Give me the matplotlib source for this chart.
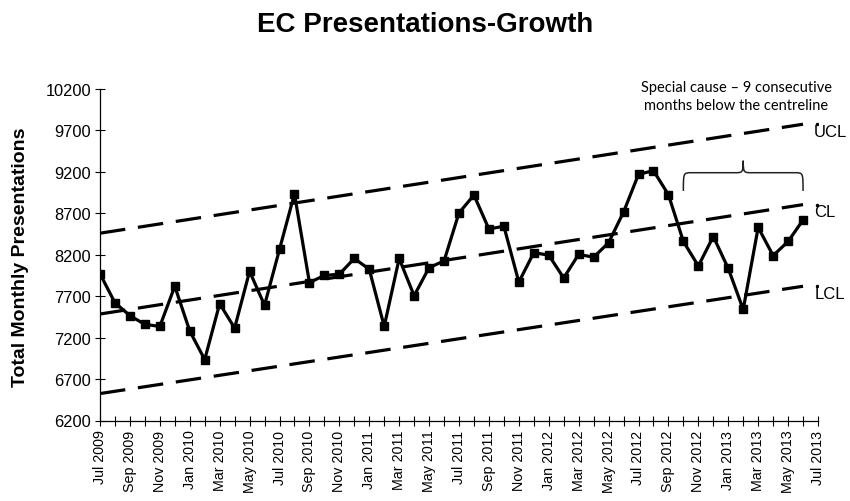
import numpy as np
import matplotlib
matplotlib.use("Agg")
import matplotlib.pyplot as plt
from matplotlib.path import Path
from matplotlib.patches import PathPatch

# ------------ DONNÉES ------------
month_names = ["Jan", "Feb", "Mar", "Apr", "May", "Jun",
               "Jul", "Aug", "Sep", "Oct", "Nov", "Dec"]

# Jul 2009 -> Jun 2013
presentations = [
    7970, 7620, 7465, 7360, 7335, 7820, 7280, 6935, 7610, 7315, 8000, 7590,
    8265, 8935, 7865, 7950, 7965, 8155, 8025, 7335, 8155, 7705, 8045, 8125,
    8705, 8920, 8510, 8545, 7870, 8225, 8195, 7920, 8205, 8170, 8345, 8715,
    9170, 9215, 8925, 8360, 8065, 8420, 8035, 7540, 8530, 8190, 8360, 8620,
]

# lignes de contrôle : valeur au premier et au dernier mois
ucl_ends = [8460, 9775]
cl_ends = [7485, 8805]
lcl_ends = [6525, 7820]
limit_names = ["UCL", "CL", "LCL"]

y_ticks = [6200, 6700, 7200, 7700, 8200, 8700, 9200, 9700, 10200]

# série spéciale (index des mois, premier et dernier)
run_start, run_end = 39, 47
# -------------------------------------------------

plt.rcParams["font.family"] = ["Liberation Sans", "DejaVu Sans"]

n = len(presentations)
x = np.arange(n)
start_year, start_month = 2009, 7
labels = []
for i in range(n + 1):
    m = (start_month - 1 + i) % 12
    y = start_year + (start_month - 1 + i) // 12
    labels.append(f"{month_names[m]} {y}")

fig = plt.figure(figsize=(8.5, 5.02), dpi=100)
ax = fig.add_axes([100 / 850, 1 - 421.5 / 502, 718 / 850, 331.5 / 502])

dash = (8, 4)
for ends, name in zip([ucl_ends, cl_ends, lcl_ends], limit_names):
    ax.plot([x[0], x[-1]], ends, color="black", lw=2.3,
            linestyle=(0, dash), dash_capstyle="butt")
    ax.plot([x[-1] + 0.95], [ends[1]], marker="o", ms=1.5, color="black")
    ax.annotate(name, (x[-1], ends[1]), xytext=(8, -5), textcoords="offset points",
                ha="left", va="center", fontsize=12, annotation_clip=False)

ax.plot(x, presentations, color="black", lw=2.3, marker="s", ms=5.5,
        markerfacecolor="black", markeredgecolor="black")

# accolade au-dessus de la série spéciale
yb, yh, yp = 8970, 9190, 9335
xm = (run_start + run_end) / 2
r = 0.55
verts = [
    (run_start, yb),
    (run_start, yh), (run_start, yh), (run_start + r, yh),
    (xm - r, yh),
    (xm - 0.05, yh), (xm, yh), (xm, yp),
    (xm, yh), (xm + 0.05, yh), (xm + r, yh),
    (run_end - r, yh),
    (run_end, yh), (run_end, yh), (run_end, yb),
]
codes = [Path.MOVETO,
         Path.CURVE4, Path.CURVE4, Path.CURVE4,
         Path.LINETO,
         Path.CURVE4, Path.CURVE4, Path.CURVE4,
         Path.CURVE4, Path.CURVE4, Path.CURVE4,
         Path.LINETO,
         Path.CURVE4, Path.CURVE4, Path.CURVE4]
ax.add_patch(PathPatch(Path(verts, codes), fill=False, lw=1.1, edgecolor="#222222"))

fig.text(736.5 / 850, 1 - 97 / 502,
         "Special cause \u2013 9 consecutive\nmonths below the centreline",
         ha="center", va="center", fontsize=10.5, family=["Lato", "DejaVu Sans"],
         linespacing=1.35)

ax.set_xlim(0, n)
ax.set_ylim(y_ticks[0], y_ticks[-1])
ax.set_yticks(y_ticks)
ax.set_xticks(np.arange(n + 1))
ax.set_xticklabels([lab if i % 2 == 0 else "" for i, lab in enumerate(labels)],
                   rotation=90, fontsize=10.3)
ax.tick_params(axis="y", labelsize=11.8, direction="inout", length=7, width=0.8, pad=3)
ax.tick_params(axis="x", direction="inout", length=7, width=0.8, pad=3)

for s in ["top", "right"]:
    ax.spines[s].set_visible(False)
for s in ["left", "bottom"]:
    ax.spines[s].set_linewidth(0.9)
    ax.spines[s].set_color("black")

fig.text(0.5, 1 - 25 / 502, "EC Presentations-Growth", ha="center", va="center",
         fontsize=20, fontweight="bold")
fig.text(21 / 850, 1 - 257 / 502, "Total Monthly Presentations", rotation=90,
         ha="center", va="center", fontsize=14, fontweight="bold")

fig.savefig("out.png", dpi=100)
